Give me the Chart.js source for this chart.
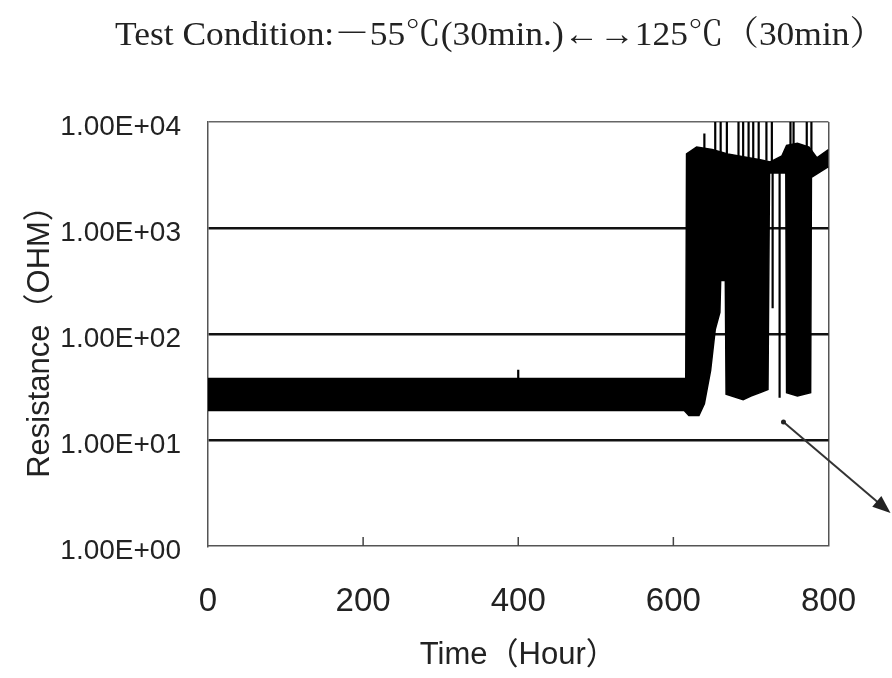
<!DOCTYPE html>
<html>
<head>
<meta charset="utf-8">
<script src="https://cdn.jsdelivr.net/npm/chart.js@4/dist/chart.umd.min.js"></script>
<style>
  html, body { margin: 0; padding: 0; background: #fff; }
  #wrap { width: 892px; height: 678px; }
</style>
</head>
<body>
<div id="wrap"><canvas id="chart" width="892" height="678"></canvas></div>
<script>
/* ── Data ────────────────────────────── */
const xTickValues = [0, 200, 400, 600, 800];
const yTickValues = [1, 10, 100, 1000, 10000];
const yTickLabels = ['1.00E+00', '1.00E+01', '1.00E+02', '1.00E+03', '1.00E+04'];

// dense cycling band, upper edge (hours / ohm)
const upperTime = [0, 616, 617, 630, 650, 670, 690, 712, 725, 740, 746, 760, 775, 785, 800];
const upperOhm  = [38, 38, 5000, 5800, 5500, 5000, 4700, 4400, 4200, 4800, 6000, 6300, 5800, 4600, 5500];

// dense cycling band, lower edge
const lowerTime = [0, 614, 620, 633, 640, 648, 654, 660, 661, 667, 668, 690, 700, 712, 722, 724, 745, 746, 760, 777, 778, 800];
const lowerOhm  = [19, 19, 17, 17, 22, 45, 110, 160, 320, 320, 27, 24, 26, 28, 30, 3300, 3300, 28, 26, 28, 3000, 3800];

// single thin excursions
const spikeTime = [400, 640, 654, 661, 669, 684, 690, 697, 703, 710, 720, 727, 728, 737, 751, 755, 772, 778];
const spikeFrom = [38, 5500, 5000, 5000, 5000, 4700, 4600, 4500, 4400, 4400, 4300, 4200, 3300, 3300, 6000, 6000, 5800, 5000];
const spikeTo   = [46, 7800, 12000, 12000, 12000, 12000, 12000, 12000, 12000, 12000, 12000, 12000, 175, 25, 12000, 12000, 12000, 12000];

// white gap inside the band
const notchTime = [400];
const notchFrom = [28];
const notchTo   = [38];

// pointer arrow (data coords, tip runs past the plot)
const arrowFrom = [742, 14.8];
const arrowTo   = [880, 2.05];

const titleText  = 'Test Condition:－55℃(30min.)←→125℃（30min）';
const xTitleText = 'Time（Hour）';
const yTitleText = 'Resistance（OHM）';

/* ── Helpers ─────────────────────────── */
function toPoints(xs, ys) {
  return xs.map((x, i) => ({ x: x, y: ys[i] }));
}
function toSegments(xs, from, to) {
  const pts = [];
  xs.forEach((x, i) => {
    pts.push({ x: x, y: from[i] }, { x: x, y: to[i] }, { x: x, y: null });
  });
  return pts;
}

const SANS  = "'Liberation Sans', Arial, 'Noto Sans CJK JP', sans-serif";
const SERIF = "'Liberation Serif', 'Noto Serif CJK JP', 'Noto Sans CJK JP', serif";

/* ── Extras: title, inner ticks, arrow ─ */
const extras = {
  id: 'extras',
  afterDraw(chart) {
    const ctx = chart.ctx;
    const xs = chart.scales.x, ys = chart.scales.y;
    const area = chart.chartArea;

    // title, squeezed to the width it takes in the picture
    ctx.save();
    ctx.font = '34px ' + SERIF;
    ctx.fillStyle = '#222';
    ctx.textBaseline = 'alphabetic';
    const w = ctx.measureText(titleText).width;
    ctx.translate(115, 45);
    ctx.scale(770 / w, 1);
    ctx.fillText(titleText, 0, 0);
    ctx.restore();

    // tick marks pointing into the plot
    ctx.save();
    ctx.strokeStyle = '#444';
    ctx.lineWidth = 1.5;
    xTickValues.slice(1, -1).forEach(v => {
      const px = xs.getPixelForValue(v);
      ctx.beginPath();
      ctx.moveTo(px, area.bottom);
      ctx.lineTo(px, area.bottom - 9);
      ctx.stroke();
    });
    ctx.restore();

    // arrow
    const x0 = xs.getPixelForValue(arrowFrom[0]), y0 = ys.getPixelForValue(arrowFrom[1]);
    const x1 = xs.getPixelForValue(arrowTo[0]),   y1 = ys.getPixelForValue(arrowTo[1]);
    const ang = Math.atan2(y1 - y0, x1 - x0);
    ctx.save();
    ctx.strokeStyle = '#333';
    ctx.fillStyle = '#222';
    ctx.lineWidth = 2;
    ctx.beginPath();
    ctx.moveTo(x0, y0);
    ctx.lineTo(x1 - 12 * Math.cos(ang), y1 - 12 * Math.sin(ang));
    ctx.stroke();
    ctx.beginPath();
    ctx.arc(x0, y0, 2.5, 0, Math.PI * 2);
    ctx.fill();
    ctx.beginPath();
    ctx.moveTo(x1, y1);
    ctx.lineTo(x1 - 18 * Math.cos(ang) + 7 * Math.sin(ang), y1 - 18 * Math.sin(ang) - 7 * Math.cos(ang));
    ctx.lineTo(x1 - 18 * Math.cos(ang) - 7 * Math.sin(ang), y1 - 18 * Math.sin(ang) + 7 * Math.cos(ang));
    ctx.closePath();
    ctx.fill();
    ctx.restore();
  }
};

/* ── Chart ───────────────────────────── */
new Chart(document.getElementById('chart'), {
  type: 'line',
  data: {
    datasets: [
      {
        data: toPoints(upperTime, upperOhm),
        borderColor: '#000', borderWidth: 1.5, pointRadius: 0, tension: 0
      },
      {
        data: toPoints(lowerTime, lowerOhm),
        borderColor: '#000', borderWidth: 1.5, pointRadius: 0, tension: 0,
        backgroundColor: '#000', fill: '-1'
      },
      {
        data: toSegments(spikeTime, spikeFrom, spikeTo),
        borderColor: '#000', borderWidth: 2.2, pointRadius: 0, spanGaps: false
      },
      {
        data: toSegments(notchTime, notchFrom, notchTo),
        borderColor: '#fff', borderWidth: 1.5, pointRadius: 0, spanGaps: false
      }
    ]
  },
  options: {
    responsive: false,
    animation: false,
    layout: { padding: { left: 0, top: 122, right: 62, bottom: 0 } },
    plugins: {
      legend: { display: false },
      tooltip: { enabled: false }
    },
    scales: {
      x: {
        type: 'linear',
        min: 0, max: 800,
        afterBuildTicks: s => { s.ticks = xTickValues.map(v => ({ value: v })); },
        afterFit: s => { s.height = 132; },
        ticks: { font: { family: SANS, size: 33 }, color: '#222', padding: 36, maxRotation: 0 },
        grid: {
          drawTicks: false,
          color: c => (c.tick && c.tick.value === 800) ? '#555' : 'rgba(0,0,0,0)',
          lineWidth: 1.5
        },
        border: { color: '#555', width: 1.5 },
        title: {
          display: true, text: xTitleText, color: '#222',
          font: { family: SANS, size: 31 }, padding: { top: 0, bottom: 4 }
        }
      },
      y: {
        type: 'logarithmic',
        min: 1, max: 10000,
        afterBuildTicks: s => { s.ticks = yTickValues.map(v => ({ value: v })); },
        afterFit: s => { s.width = 208; },
        ticks: {
          font: { family: SANS, size: 28 }, color: '#222', padding: 27, labelOffset: 5,
          callback: (v, i) => yTickLabels[i]
        },
        grid: {
          drawTicks: false,
          color: c => {
            const v = c.tick ? c.tick.value : 0;
            if (v === 1) return 'rgba(0,0,0,0)';
            return v === 10000 ? '#666' : '#111';
          },
          lineWidth: c => (c.tick && c.tick.value === 10000) ? 1.5 : 2.5
        },
        border: { color: '#555', width: 1.5 },
        title: {
          display: true, text: yTitleText, color: '#222',
          font: { family: SANS, size: 31 }, padding: { top: 22, bottom: 0 }
        }
      }
    }
  },
  plugins: [extras]
});
</script>
</body>
</html>
